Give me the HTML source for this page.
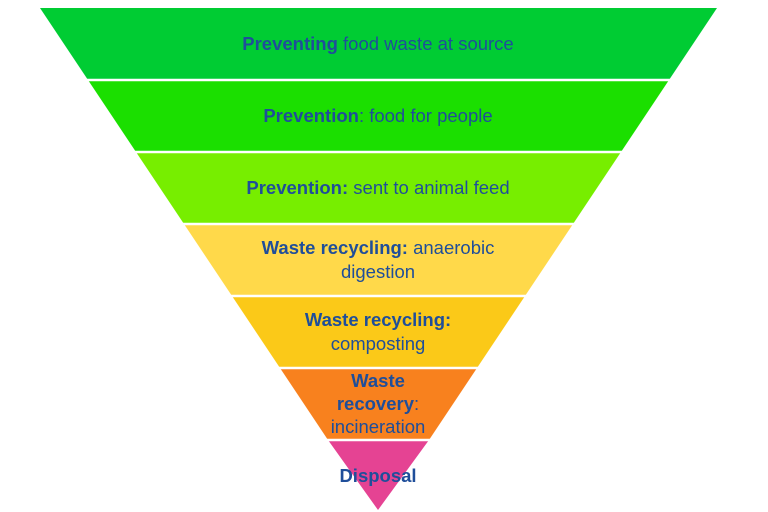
<!DOCTYPE html>
<html><head><meta charset="utf-8"><style>
html,body{margin:0;padding:0;background:#fff;}
svg{display:block}
text{font-family:"Liberation Sans",sans-serif;font-size:18.5px;fill:#1F4E9A;text-anchor:middle}
.b{font-weight:bold}
</style></head><body>
<svg width="768" height="512" viewBox="0 0 768 512">
<polygon points="40,8 717,8 669,80 88,80" fill="#00CC33"/>
<polygon points="88,80 669,80 621,152 136,152" fill="#1BDF00"/>
<polygon points="136,152 621,152 573,224 184,224" fill="#77EE00"/>
<polygon points="184,224 573,224 525,296 232,296" fill="#FFD94A"/>
<polygon points="232,296 525,296 477,368 280,368" fill="#FBC918"/>
<polygon points="280,368 477,368 429,440 328,440" fill="#F8811E"/>
<polygon points="328,440 429,440 378,510" fill="#E54393"/>
<g stroke="#fff" stroke-width="2.5">
<line x1="0" y1="80" x2="768" y2="80"/>
<line x1="0" y1="152" x2="768" y2="152"/>
<line x1="0" y1="224" x2="768" y2="224"/>
<line x1="0" y1="296" x2="768" y2="296"/>
<line x1="0" y1="368" x2="768" y2="368"/>
<line x1="0" y1="440" x2="768" y2="440"/>
</g>
<text x="378" y="50"><tspan class="b">Preventing</tspan> food waste at source</text>
<text x="378" y="122"><tspan class="b">Prevention</tspan>: food for people</text>
<text x="378" y="194"><tspan class="b">Prevention:</tspan> sent to animal feed</text>
<text x="378" y="254"><tspan class="b">Waste recycling:</tspan> anaerobic</text>
<text x="378" y="278">digestion</text>
<text x="378" y="326" class="b">Waste recycling:</text>
<text x="378" y="350">composting</text>
<text x="378" y="387" class="b">Waste</text>
<text x="378" y="410"><tspan class="b">recovery</tspan>:</text>
<text x="378" y="433">incineration</text>
<text x="378" y="482" class="b">Disposal</text>
</svg>
</body></html>
